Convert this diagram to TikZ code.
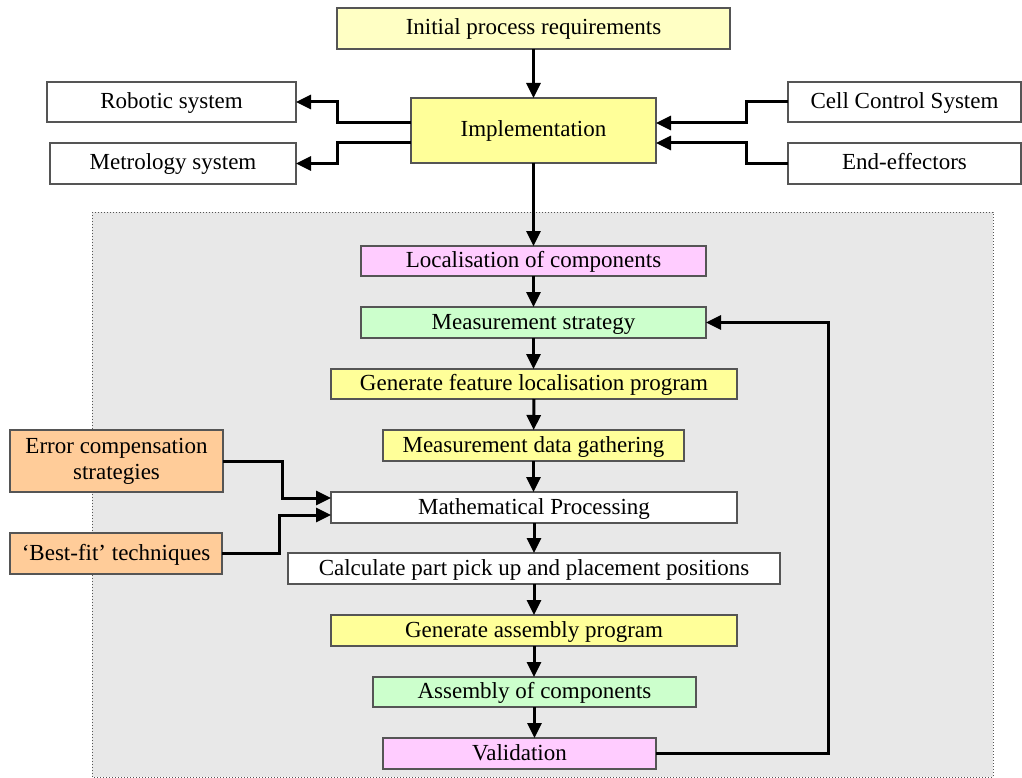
\documentclass[tikz,border=0pt]{standalone}
\usepackage{fontspec}
\setmainfont{Liberation Serif}
\usetikzlibrary{arrows.meta,calc}
\definecolor{lyel}{HTML}{FFFFC4}
\definecolor{yel}{HTML}{FFFF99}
\definecolor{pnk}{HTML}{FFCCFF}
\definecolor{grn}{HTML}{CCFFCC}
\definecolor{org}{HTML}{FFCC99}
\definecolor{bord}{HTML}{555555}
\definecolor{bg}{HTML}{E8E8E8}
\tikzset{
  bx/.style={draw=bord, line width=1.3pt, rectangle, inner sep=0pt, outer sep=0pt, align=center, text height=16pt, text depth=3pt, font=\fontsize{23}{26}\selectfont},
  arr/.style={line width=3pt, -{Triangle[length=15pt,width=14pt]}},
}
\newcommand{\bxat}[6]{% name, x1, y1, x2, y2, options+text
  \node[bx, minimum width={#4-#2}, minimum height={#5-#3}] (#1) at ({(#2+#4)/2},{(#3+#5)/2}) #6;}
\begin{document}
\begin{tikzpicture}[x=1pt,y=-1pt]
\useasboundingbox (0,0) rectangle (1022,778);
\draw[bord, dotted, line width=1pt, fill=bg] (92,212) rectangle (993,777);
\bxat{init}{337}{8}{730}{49}{[fill=lyel] {Initial process requirements}}
\bxat{impl}{411}{98}{656}{163}{[fill=yel] {Implementation}}
\bxat{robot}{47}{82}{296}{122}{[fill=white] {Robotic system}}
\bxat{metro}{50}{143}{296}{184}{[fill=white] {Metrology system}}
\bxat{cell}{788}{82}{1021}{122}{[fill=white] {Cell Control System}}
\bxat{endef}{788}{143}{1021}{184}{[fill=white] {End-effectors}}
\bxat{loc}{361}{246}{706}{276}{[fill=pnk] {Localisation of components}}
\bxat{meas}{361}{307}{706}{338}{[fill=grn] {Measurement strategy}}
\bxat{genf}{331}{369}{737}{399}{[fill=yel] {Generate feature localisation program}}
\bxat{gath}{383}{430}{684}{461}{[fill=yel] {Measurement data gathering}}
\bxat{math}{331}{492}{737}{523}{[fill=white] {Mathematical Processing}}
\bxat{calc}{288}{553}{780}{584}{[fill=white] {Calculate part pick up and placement positions}}
\bxat{gena}{331}{615}{737}{646}{[fill=yel] {Generate assembly program}}
\bxat{asm}{373}{677}{696}{707}{[fill=grn] {Assembly of components}}
\bxat{valid}{383}{738}{656}{769}{[fill=pnk] {Validation}}
\bxat{err}{10}{430}{223}{492}{[fill=org, text height=, text depth=] {Error compensation\\strategies}}
\bxat{best}{10}{533}{222}{574}{[fill=org] {`Best-fit' techniques}}
% main chain
\draw[arr] (init) -- (impl);
\draw[arr] (impl) -- (impl.south |- loc.north);
\draw[arr] (loc) -- (meas);
\draw[arr] (meas.south) -- (meas.south |- genf.north);
\draw[arr] (genf) -- (gath);
\draw[arr] (gath.south) -- (gath.south |- math.north);
\draw[arr] (math) -- (calc);
\draw[arr] (calc) -- (gena);
\draw[arr] (gena.south) -- (gena.south |- asm.north);
\draw[arr] (asm.south) -- (asm.south |- valid.north);
% side connectors
\draw[arr] ([yshift=7.5pt]impl.west) -- ++(-74,0) |- (robot.east);
\draw[arr] ([yshift=-12.5pt]impl.west) -- ++(-74,0) |- (metro.east);
\draw[arr] (cell.west) -- ++(-42,0) |- ([yshift=7.5pt]impl.east);
\draw[arr] (endef.west) -- ++(-42,0) |- ([yshift=-12.5pt]impl.east);
\draw[arr] (err.east) -- ++(59,0) |- ([yshift=9.5pt]math.west);
\draw[arr] (best.east) -- ++(57,0) |- ([yshift=-7.5pt]math.west);
\draw[arr] (valid.east) -- ++(172,0) |- (meas.east);
\end{tikzpicture}
\end{document}
